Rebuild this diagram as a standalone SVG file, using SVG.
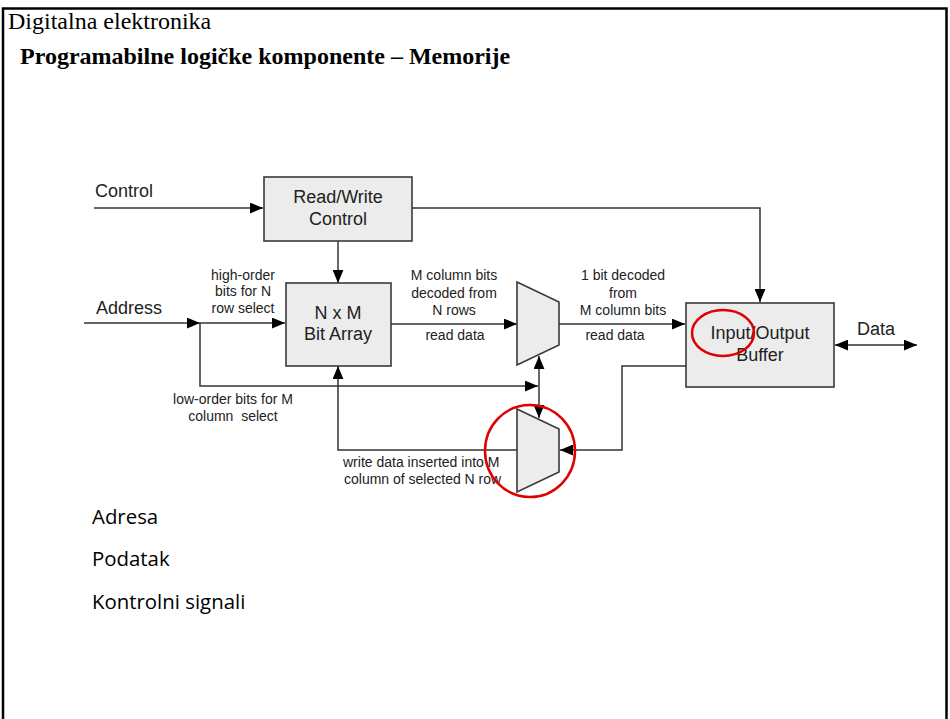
<svg xmlns="http://www.w3.org/2000/svg" width="950" height="719" viewBox="0 0 950 719">
  <style>
    .frame { fill: none; stroke: #000; stroke-width: 2.5; }
    .title { font-family: "Liberation Serif", "Times New Roman", serif; font-size: 24px; fill: #000; }
    .title-b { font-family: "Liberation Serif", "Times New Roman", serif; font-size: 24px; font-weight: bold; fill: #000; }
    .blk { fill: #ececec; stroke: #3a3a3a; stroke-width: 1.6; }
    .big { font-family: "Liberation Sans", Arial, sans-serif; font-size: 18px; fill: #222; text-anchor: middle; }
    .lbl { font-family: "Liberation Sans", Arial, sans-serif; font-size: 18px; fill: #222; }
    .sm { font-family: "Liberation Sans", Arial, sans-serif; font-size: 14px; fill: #222; text-anchor: middle; }
    .sml { font-family: "Liberation Sans", Arial, sans-serif; font-size: 14px; fill: #222; }
    .wire { fill: none; stroke: #333; stroke-width: 1.5; }
    .arr { marker-end: url(#ah); }
    .both { marker-start: url(#ah); marker-end: url(#ah); }
    .ring { fill: none; stroke: #e00000; stroke-width: 2.5; }
    .bullet { font-family: "Open Sans", "Noto Sans", sans-serif; font-size: 20.4px; fill: #000; }
  </style>
  <defs>
    <marker id="ah" viewBox="0 0 12 10" refX="12" refY="5" markerWidth="13" markerHeight="11" orient="auto-start-reverse" markerUnits="userSpaceOnUse">
      <path d="M0,0 L12,5 L0,10 z" fill="#000"/>
    </marker>
  </defs>

  <rect width="950" height="719" fill="#fff"/>
  <rect class="frame" x="3" y="8.5" width="943.5" height="730"/>

  <text class="title" x="8" y="29">Digitalna elektronika</text>
  <text class="title-b" x="20" y="64">Programabilne logičke komponente – Memorije</text>

  <!-- connectors -->
  <g id="connectors">
    <path class="wire arr" d="M94,208 H263"/>
    <path class="wire arr" d="M412,208 H760 V302"/>
    <path class="wire arr" d="M338,241 V283"/>
    <path class="wire arr" d="M84,323 H200"/>
    <path class="wire arr" d="M200,323 H285"/>
    <path class="wire arr" d="M200,323 V386 H538"/>
    <path class="wire arr" d="M391,324 H517"/>
    <path class="wire arr" d="M559,324 H685"/>
    <path class="wire both" d="M539,356 V418"/>
    <path class="wire arr" d="M686,366 H622 V450 H560"/>
    <path class="wire arr" d="M517,450 H338 V366"/>
    <path class="wire both" d="M835,345 H917"/>
  </g>

  <!-- inputs -->
  <text class="lbl" x="95" y="197">Control</text>
  <text class="lbl" x="96" y="314">Address</text>
  <text class="lbl" x="857" y="335">Data</text>

  <g id="rw-control">
    <rect class="blk" x="264" y="177" width="148" height="64"/>
    <text class="big" x="338" y="203">Read/Write</text>
    <text class="big" x="338" y="225">Control</text>
  </g>

  <g id="bit-array">
    <rect class="blk" x="286" y="283" width="105" height="83"/>
    <text class="big" x="338" y="319">N x M</text>
    <text class="big" x="338" y="340">Bit Array</text>
  </g>

  <g id="read-mux">
    <path class="blk" d="M517,282 L559,302 L559,345 L517,365 Z"/>
  </g>

  <g id="write-mux">
    <path class="blk" d="M517,409 L559,429 L559,472 L517,492 Z"/>
  </g>

  <g id="io-buffer">
    <rect class="blk" x="686" y="303" width="148" height="84"/>
    <text class="big" x="760" y="339">Input/Output</text>
    <text class="big" x="760" y="361">Buffer</text>
  </g>

  <!-- signal notes -->
  <g id="notes">
    <text class="sm" x="243" y="280">high-order</text>
    <text class="sm" x="243" y="296">bits for N</text>
    <text class="sm" x="243" y="313">row select</text>
    <text class="sm" x="454" y="280">M column bits</text>
    <text class="sm" x="454" y="298">decoded from</text>
    <text class="sm" x="454" y="315">N rows</text>
    <text class="sm" x="455" y="340">read data</text>
    <text class="sm" x="623" y="280">1 bit decoded</text>
    <text class="sm" x="623" y="298">from</text>
    <text class="sm" x="623" y="315">M column bits</text>
    <text class="sm" x="615" y="340">read data</text>
    <text class="sm" x="233" y="404">low-order bits for M</text>
    <text class="sm" x="233" y="421" xml:space="preserve">column  select</text>
    <text class="sml" x="343" y="467">write data inserted into M</text>
    <text class="sml" x="344" y="484">column of selected N row</text>
  </g>

  <!-- highlights -->
  <ellipse class="ring" cx="723" cy="333" rx="31" ry="23"/>
  <ellipse class="ring" cx="530" cy="451" rx="45" ry="46"/>

  <text class="bullet" x="92" y="524">Adresa</text>
  <text class="bullet" x="92" y="566">Podatak</text>
  <text class="bullet" x="92" y="609">Kontrolni signali</text>
</svg>
